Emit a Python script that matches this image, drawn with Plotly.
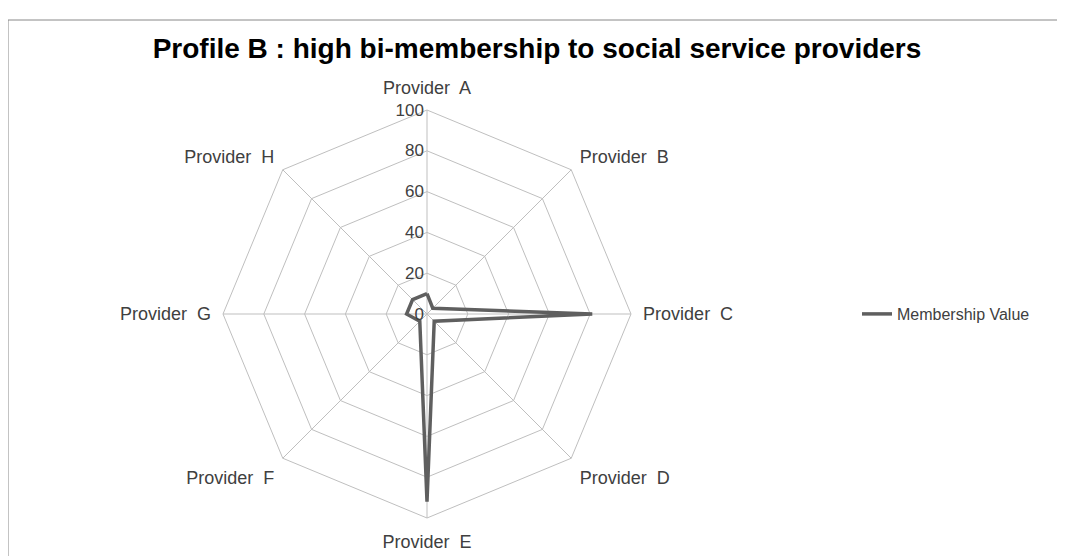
import plotly.graph_objects as go

categories = ["Provider  A", "Provider  B", "Provider  C", "Provider  D",
              "Provider  E", "Provider  F", "Provider  G", "Provider  H"]
membership = [10, 4, 81, 5, 92, 5, 10, 10]
radial_ticks = [0, 20, 40, 60, 80, 100]

# page body has an 8px margin; work in figure coordinates
OX, OY = 8, 8
W, H = 1065 - OX, 556 - OY
cx, cy, R = 427 - OX, 314 - OY, 204

fig = go.Figure()
fig.add_trace(go.Scatterpolar(
    r=membership + membership[:1],
    theta=categories + categories[:1],
    mode="lines",
    line=dict(color="#5f5f5f", width=3.5),
    name="Membership Value",
))

grid = "#BFBFBF"
fig.update_layout(
    width=W, height=H,
    margin=dict(l=0, r=0, t=0, b=0),
    paper_bgcolor="white",
    plot_bgcolor="white",
    font=dict(family="Liberation Sans, Arial, sans-serif", color="#404040", size=15),
    title=dict(
        text="<b>Profile B : high bi-membership to social service providers</b>",
        x=(537 - OX) / W, xanchor="center", y=1 - (48 - OY) / H, yanchor="middle",
        font=dict(family="Liberation Sans, Arial", size=28, color="#000000"),
    ),
    polar=dict(
        domain=dict(x=[(cx - R) / W, (cx + R) / W], y=[1 - (cy + R) / H, 1 - (cy - R) / H]),
        gridshape="linear",
        bgcolor="white",
        radialaxis=dict(
            range=[0, 100], tickvals=radial_ticks, ticktext=[str(v) for v in radial_ticks],
            angle=90, tickangle=90, side="counterclockwise", showline=False, ticks="",
            gridcolor=grid, gridwidth=1,
            tickfont=dict(size=17, color="#404040"),
        ),
        angularaxis=dict(
            direction="clockwise", rotation=90,
            gridcolor=grid, gridwidth=1, linecolor=grid, linewidth=1, showline=True,
            ticks="outside", ticklen=8, tickcolor="rgba(0,0,0,0)",
            tickfont=dict(size=18, color="#404040"),
        ),
    ),
    showlegend=True,
    legend=dict(x=(857 - OX) / W, y=1 - (314 - OY) / H, xanchor="left", yanchor="middle",
                font=dict(size=16, color="#404040"), bgcolor="rgba(0,0,0,0)"),
    shapes=[dict(type="rect", xref="paper", yref="paper",
                 x0=0, x1=1.01, y0=-0.01, y1=1 - (20 - OY) / H,
                 line=dict(color="#888888", width=1))],
)

fig.write_html("out.html")
